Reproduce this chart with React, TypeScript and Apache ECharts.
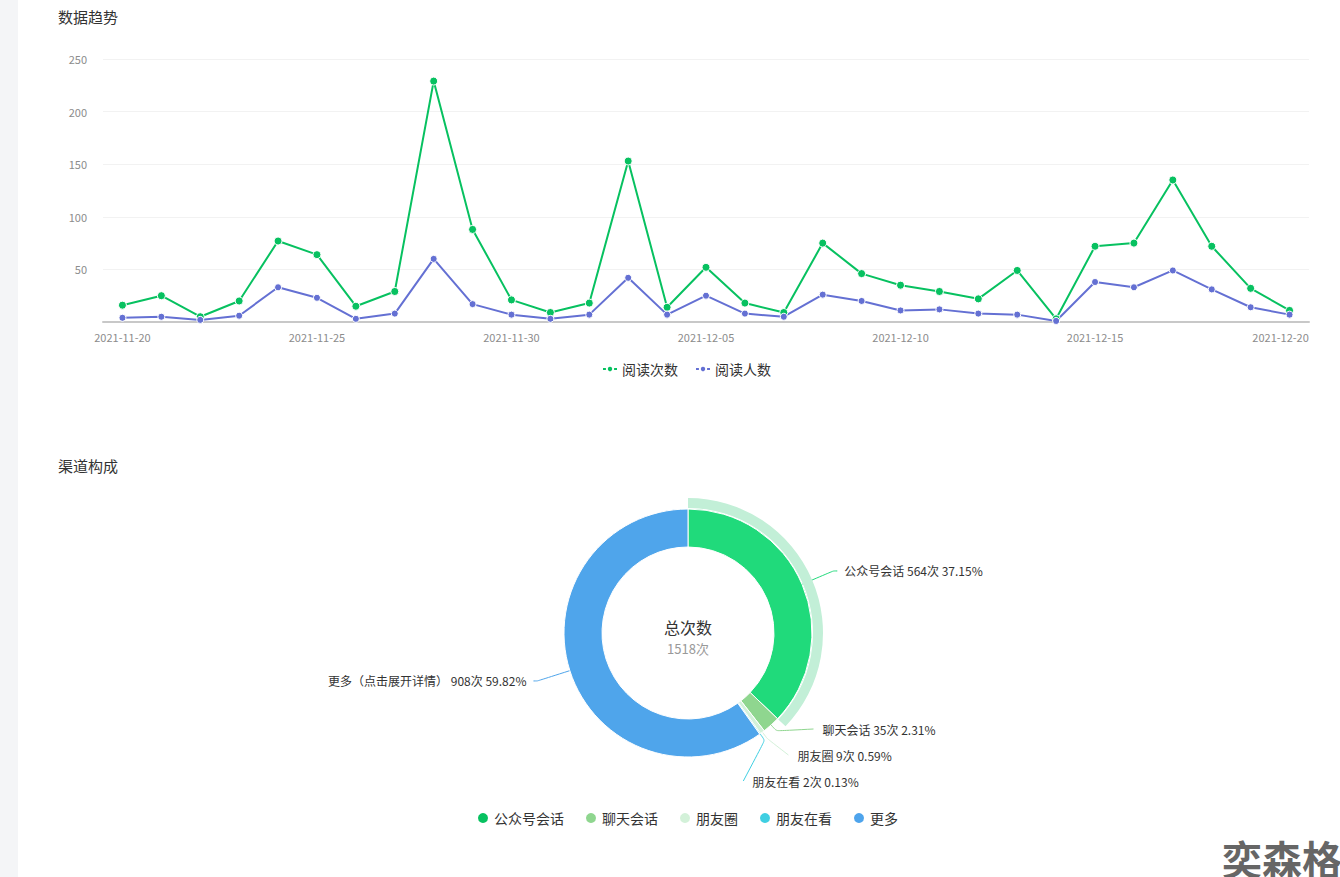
import React, { useEffect, useRef } from "react";
import * as echarts from "echarts";

const dates = [
  "2021-11-20", "2021-11-21", "2021-11-22", "2021-11-23", "2021-11-24", "2021-11-25",
  "2021-11-26", "2021-11-27", "2021-11-28", "2021-11-29", "2021-11-30", "2021-12-01",
  "2021-12-02", "2021-12-03", "2021-12-04", "2021-12-05", "2021-12-06", "2021-12-07",
  "2021-12-08", "2021-12-09", "2021-12-10", "2021-12-11", "2021-12-12", "2021-12-13",
  "2021-12-14", "2021-12-15", "2021-12-16", "2021-12-17", "2021-12-18", "2021-12-19",
  "2021-12-20",
];
const readCount = [16, 25, 5, 20, 77, 64, 15, 29, 229, 88, 21, 9, 18, 153, 14, 52, 18, 9, 75, 46, 35, 29, 22, 49, 3, 72, 75, 135, 72, 32, 11];
const readUsers = [4, 5, 2, 6, 33, 23, 3, 8, 60, 17, 7, 3, 7, 42, 7, 25, 8, 5, 26, 20, 11, 12, 8, 7, 1, 38, 33, 49, 31, 14, 7];
const lineSeriesNames = ["阅读次数", "阅读人数"];

const channelNames = ["公众号会话", "聊天会话", "朋友圈", "朋友在看", "更多"];
const channelValues = [564, 35, 9, 2, 908];
const channelLegendColors = ["#07c160", "#8fd68f", "#d3f1d9", "#3fcfe2", "#4ea4ec"];
const channelSliceColors = ["#20da7b", "#8fd68f", "#d3f1d9", "#3fcfe2", "#4fa5eb"];
const moreLabel = "更多（点击展开详情）";
const totalCount = 1518;

const FONT = '"Noto Sans CJK SC", "Noto Sans", sans-serif';

export default function App() {
  const ref = useRef<HTMLDivElement>(null);

  useEffect(() => {
    if (!ref.current) return;
    const chart = echarts.init(ref.current, null, { renderer: "svg" });
    const total = channelValues.reduce((a, b) => a + b, 0);
    const lastIdx = dates.length - 1;
    const pieBox = { left: 0, top: 440, width: 1340, height: 354 };
    const CX = 688;
    const CY = 633;
    const pieCenter = [CX - pieBox.left, CY - pieBox.top];
    const R_OUT = 124;
    const R_LABEL = 158;
    // mid angles (radians, clockwise from top) of every slice
    const midAngles: number[] = [];
    let acc = 0;
    channelValues.forEach((v) => {
      midAngles.push(((acc + v / 2) / total) * Math.PI * 2);
      acc += v;
    });

    const labelLayout = (params: any) => {
      if (params.seriesIndex !== 3) return {};
      const i = params.dataIndex;
      if (i < 1 || i > 3) return {};
      const r = params.labelRect;
      const ly = r.y + r.height / 2;
      const dy = ly - CY;
      const endX = CX + Math.sqrt(Math.max(0, R_LABEL * R_LABEL - dy * dy));
      const a = midAngles[i];
      const sx = CX + R_OUT * Math.sin(a);
      const sy = CY - R_OUT * Math.cos(a);
      const tx = CX + (R_OUT + 8) * Math.sin(a);
      const ty = CY - (R_OUT + 8) * Math.cos(a);
      return {
        x: endX + 9,
        labelLinePoints: [
          [sx, sy],
          [tx, ty],
          [endX, ly],
        ],
      };
    };

    const option: any = {
      animation: false,
      textStyle: { fontFamily: FONT },
      graphic: [
        { type: "rect", left: 0, top: 0, shape: { width: 18, height: 877 }, style: { fill: "#f4f5f7" }, silent: true },
        { type: "text", left: 58, top: 9, style: { text: "数据趋势", fontSize: 15, fill: "#333", fontFamily: FONT } },
        { type: "text", left: 58, top: 458, style: { text: "渠道构成", fontSize: 15, fill: "#333", fontFamily: FONT } },
        { type: "text", x: 688, y: 627, style: { text: "总次数", fontSize: 16, fill: "#333", align: "center", verticalAlign: "middle", fontFamily: FONT } },
        { type: "text", x: 688, y: 648, style: { text: totalCount + "次", fontSize: 13, fill: "#999", align: "center", verticalAlign: "middle", fontFamily: FONT } },
        { type: "text", x: 1222, y: 858, style: { text: "奕森格", fontSize: 40, fontWeight: "bold", fill: "#666", verticalAlign: "middle", fontFamily: FONT } },
      ],
      legend: [
        {
          data: lineSeriesNames,
          top: 357,
          left: 597,
          itemWidth: 14,
          itemHeight: 8,
          itemGap: 17,
          textStyle: { fontSize: 14, color: "#333", fontFamily: FONT },
        },
        {
          data: channelNames.map((n, i) => ({ name: n, itemStyle: { color: channelLegendColors[i] } })),
          top: 806,
          left: 471,
          icon: "circle",
          itemWidth: 12,
          itemHeight: 12,
          itemGap: 20,
          textStyle: { fontSize: 14, color: "#333", fontFamily: FONT },
        },
      ],
      grid: { left: 103, top: 59, width: 1206, height: 263 },
      xAxis: {
        type: "category",
        data: dates.map((d, i) =>
          i === lastIdx ? { value: d, textStyle: { padding: [0, 18, 0, 0] } } : d
        ),
        boundaryGap: true,
        axisLine: { lineStyle: { color: "#c8c8c8", width: 2 } },
        axisTick: { show: false },
        axisLabel: { interval: 4, color: "#8c8c8c", fontSize: 11, margin: 9 },
      },
      yAxis: {
        type: "value",
        min: 0,
        max: 250,
        interval: 50,
        axisLine: { show: false },
        axisTick: { show: false },
        splitLine: { lineStyle: { color: "#f2f2f2" } },
        axisLabel: {
          color: "#8c8c8c",
          fontSize: 11,
          margin: 16,
          formatter: (v: number) => (v === 0 ? "" : String(v)),
        },
      },
      series: [
        {
          name: lineSeriesNames[0],
          type: "line",
          data: readCount,
          symbol: "circle",
          symbolSize: 8,
          lineStyle: { color: "#07c160", width: 2 },
          itemStyle: { color: "#07c160", borderColor: "#fff", borderWidth: 1 },
        },
        {
          name: lineSeriesNames[1],
          type: "line",
          data: readUsers,
          symbol: "circle",
          symbolSize: 7,
          lineStyle: { color: "#6470d3", width: 2 },
          itemStyle: { color: "#6470d3", borderColor: "#fff", borderWidth: 1 },
        },
        {
          name: "highlight",
          type: "pie",
          ...pieBox,
          center: pieCenter,
          radius: [125, 135],
          startAngle: 90,
          silent: true,
          label: { show: false },
          labelLine: { show: false },
          data: [
            { name: "hl-main", value: channelValues[0], itemStyle: { color: "#c2efd7" } },
            { name: "hl-rest", value: total - channelValues[0], itemStyle: { color: "rgba(0,0,0,0)" } },
          ],
        },
        {
          name: "渠道构成",
          type: "pie",
          ...pieBox,
          center: pieCenter,
          radius: [86, R_OUT],
          startAngle: 90,
          avoidLabelOverlap: true,
          itemStyle: { borderColor: "#fff", borderWidth: 1 },
          label: {
            color: "#333",
            fontSize: 12,
            lineHeight: 24,
            fontFamily: FONT,
            distanceToLabelLine: 7,
            formatter: "{b} {c}次 {d}%",
          },
          labelLine: { length: 34, length2: 4, smooth: 0.2 },
          labelLayout,
          data: channelNames.map((n, i) => {
            const item: any = {
              name: n,
              value: channelValues[i],
              itemStyle: { color: channelSliceColors[i] },
              labelLine: { lineStyle: { color: channelSliceColors[i] } },
            };
            if (n === "更多") item.label = { formatter: moreLabel + " {c}次 {d}%" };
            return item;
          }),
        },
      ],
    };
    chart.setOption(option);
    return () => chart.dispose();
  }, []);

  return (
    <div style={{ position: "fixed", left: 0, top: 0, width: 1340, height: 877, background: "#fff" }}>
      <div ref={ref} style={{ width: 1340, height: 877 }} />
    </div>
  );
}
